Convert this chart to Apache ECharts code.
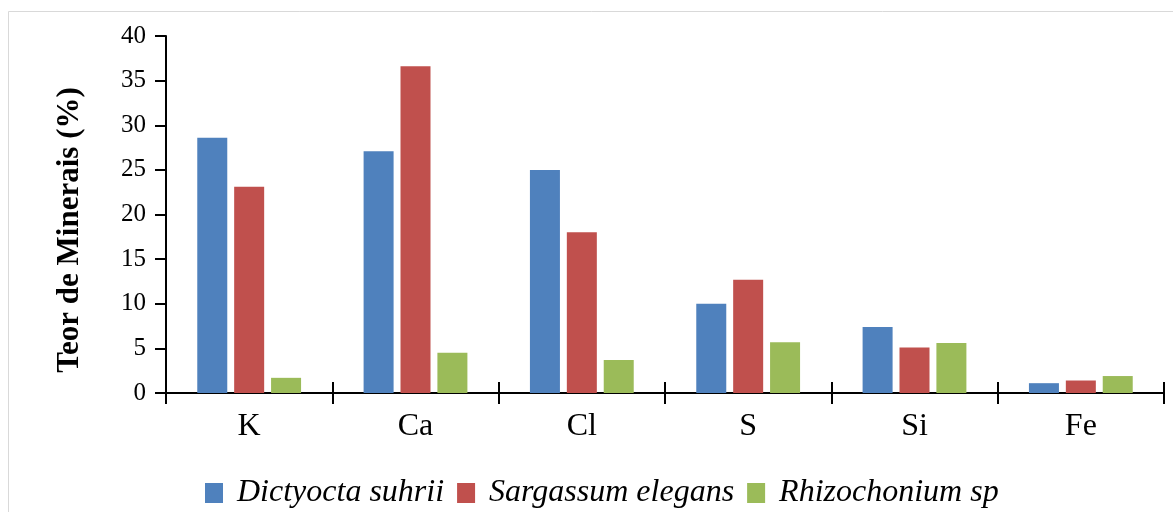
<!DOCTYPE html>
<html>
<head>
<meta charset="utf-8">
<script src="https://cdn.jsdelivr.net/npm/echarts@6/dist/echarts.min.js"></script>
<style>html,body{margin:0;padding:0;background:#fff}#c{width:1173px;height:512px}</style>
</head>
<body>
<div id="c"></div>
<script>
const categories = ['K', 'Ca', 'Cl', 'S', 'Si', 'Fe'];
const seriesNames = ['Dictyocta suhrii', 'Sargassum elegans', 'Rhizochonium sp'];
const dictyocta = [28.6, 27.1, 25.0, 10.0, 7.4, 1.1];
const sargassum = [23.1, 36.6, 18.0, 12.7, 5.1, 1.4];
const rhizochonium = [1.7, 4.5, 3.7, 5.7, 5.6, 1.9];
const yTicks = [0, 5, 10, 15, 20, 25, 30, 35, 40];
const yTitle = 'Teor de Minerais (%)';

const colors = ['#4F81BD', '#C0504D', '#9BBB59'];
const font = 'Liberation Serif, Times New Roman, serif';

const chart = echarts.init(document.getElementById('c'), null, {renderer: 'canvas'});
const values = [dictyocta, sargassum, rhizochonium];
chart.setOption({
  animation: false,
  backgroundColor: '#fff',
  color: colors,
  grid: {left: 166, right: 9, top: 36, bottom: 119, containLabel: false},
  graphic: [
    {type: 'rect', shape: {x: 8.5, y: 11.5, width: 1200, height: 600}, style: {fill: 'none', stroke: '#d9d9d9', lineWidth: 1}, silent: true, z: -10},
    {type: 'text', x: 70, y: 230, rotation: Math.PI / 2,
     style: {text: yTitle, font: 'bold 31px ' + font, fill: '#000', textAlign: 'center', textVerticalAlign: 'middle'}}
  ],
  legend: {
    left: 205, top: 477, padding: 0,
    itemWidth: 18, itemHeight: 20, itemGap: 13,
    icon: 'rect',
    textStyle: {fontFamily: font, fontStyle: 'italic', fontSize: 32, color: '#000', padding: [0, 0, 0, 9]},
    data: seriesNames
  },
  xAxis: [
    {type: 'category', data: categories, boundaryGap: true,
     axisLine: {lineStyle: {color: '#000', width: 2}},
     axisTick: {show: true, length: 11, lineStyle: {color: '#000', width: 2}},
     axisLabel: {fontFamily: font, fontSize: 32, color: '#000', margin: 18}},
    {type: 'category', data: categories, boundaryGap: true, position: 'bottom',
     axisLine: {show: false},
     axisTick: {show: true, inside: true, length: 11, lineStyle: {color: '#000', width: 2}},
     axisLabel: {show: false}}
  ],
  yAxis: {
    type: 'value', min: yTicks[0], max: yTicks[yTicks.length - 1], interval: yTicks[1] - yTicks[0],
    axisLine: {show: true, lineStyle: {color: '#000', width: 2}},
    axisTick: {show: true, length: 11, lineStyle: {color: '#000', width: 2}},
    splitLine: {show: false},
    axisLabel: {fontFamily: font, fontSize: 25, color: '#000', margin: 20}
  },
  series: seriesNames.map((n, i) => ({
    name: n, type: 'bar', xAxisIndex: 0, data: values[i],
    barWidth: 30, barGap: '23%',
    itemStyle: {color: colors[i]}
  }))
});
</script>
</body>
</html>
